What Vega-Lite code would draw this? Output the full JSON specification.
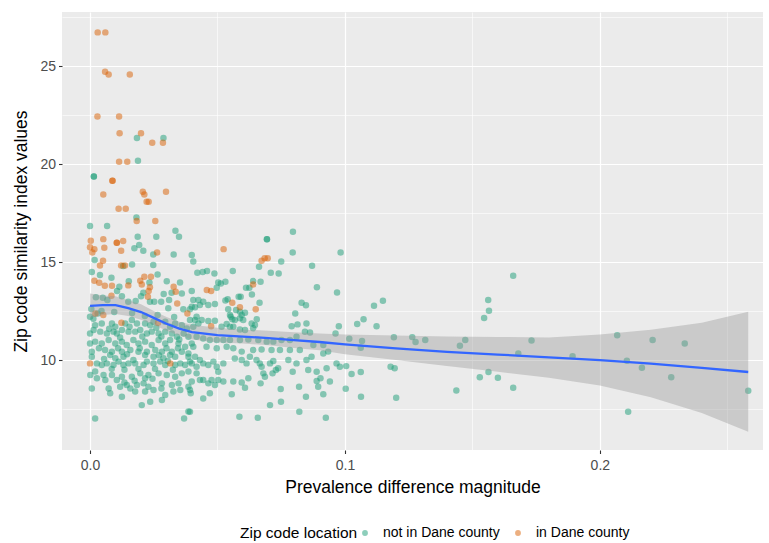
{
"$schema":"https://vega.github.io/schema/vega-lite/v6.json",
"width":701,"height":438,
"autosize":{"type":"none"},
"padding":{"left":62,"top":12,"right":6,"bottom":93},
"background":"white",
"config":{"view":{"fill":"#EBEBEB","stroke":null},"font":"Liberation Sans","axis":{"domain":false,"gridColor":"white","labelFont":"Liberation Sans","titleFont":"Liberation Sans"},"legend":{"labelFont":"Liberation Sans","titleFont":"Liberation Sans"}},
"datasets":{
"nd":[
{"x":0.0184,"y":21.33},{"x":0.0288,"y":21.33},{"x":0.0188,"y":20.17},{"x":0.0015,"y":19.37},{"x":0.0015,"y":19.37},{"x":0.0182,"y":17.28},{"x":0.0,"y":16.84},{"x":0.0067,"y":16.84},{"x":0.0335,"y":16.6},{"x":0.0349,"y":16.29},{"x":0.0187,"y":16.29},{"x":0.026,"y":16.29},{"x":0.0174,"y":15.7},{"x":0.0193,"y":15.87},{"x":0.0209,"y":15.58},{"x":0.0248,"y":15.39},{"x":0.0328,"y":15.39},{"x":0.0018,"y":15.1},{"x":0.013,"y":14.8},{"x":0.0165,"y":14.88},{"x":0.0248,"y":14.85},{"x":0.0007,"y":14.49},{"x":0.0039,"y":14.34},{"x":0.0084,"y":14.2},{"x":0.0152,"y":14.02},{"x":0.0265,"y":14.37},{"x":0.0301,"y":14.02},{"x":0.0353,"y":13.96},{"x":0.0233,"y":13.96},{"x":0.0115,"y":13.74},{"x":0.0106,"y":13.52},{"x":0.0209,"y":13.43},{"x":0.0289,"y":13.37},{"x":0.032,"y":13.43},{"x":0.0399,"y":13.52},
{"x":0.005,"y":13.18},{"x":0.0068,"y":13.06},{"x":0.015,"y":12.98},{"x":0.0179,"y":13.01},{"x":0.0235,"y":12.98},{"x":0.0252,"y":12.98},{"x":0.0307,"y":12.64},{"x":0.0366,"y":12.59},{"x":0.0399,"y":12.72},{"x":0.003,"y":12.38},{"x":0.0013,"y":12.11},{"x":0.02,"y":13.26},{"x":0.036,"y":13.4},{"x":0.0125,"y":13.26},{"x":0.0023,"y":13.2},{"x":0.0279,"y":12.97},{"x":0.031,"y":13.06},{"x":0.0045,"y":12.5},{"x":0.0095,"y":12.45},{"x":0.0165,"y":12.4},{"x":0.0215,"y":12.25},{"x":0.0265,"y":12.3},{"x":0.033,"y":12.2},{"x":0.0005,"y":12.6},
{"x":0.0,"y":12.21},{"x":0.002,"y":11.78},{"x":0.0046,"y":11.87},{"x":0.0086,"y":11.87},{"x":0.0099,"y":11.7},{"x":0.0138,"y":11.87},{"x":0.0164,"y":12.04},{"x":0.0184,"y":11.87},{"x":0.0216,"y":11.87},{"x":0.0236,"y":11.78},{"x":0.0249,"y":11.95},{"x":0.0295,"y":11.95},{"x":0.0314,"y":11.7},{"x":0.0334,"y":11.87},{"x":0.036,"y":11.78},{"x":0.038,"y":11.61},{"x":0.0,"y":11.36},{"x":0.0014,"y":11.53},{"x":0.004,"y":11.45},{"x":0.0066,"y":11.36},{"x":0.0092,"y":11.45},{"x":0.0105,"y":11.36},{"x":0.0125,"y":11.53},{"x":0.0151,"y":11.45},{"x":0.0177,"y":11.45},{"x":0.0197,"y":11.53},{"x":0.0223,"y":11.36},{"x":0.0242,"y":11.45},{"x":0.0269,"y":11.36},{"x":0.0295,"y":11.45},{"x":0.0321,"y":11.36},{"x":0.0341,"y":11.19},{"x":0.0367,"y":11.36},{"x":0.0386,"y":11.19},{"x":0.0,"y":10.85},{"x":0.002,"y":10.94},{"x":0.0046,"y":10.85},{"x":0.0073,"y":11.02},{"x":0.0099,"y":10.85},{"x":0.0125,"y":10.94},{"x":0.0144,"y":10.77},{"x":0.017,"y":11.02},{"x":0.019,"y":10.85},{"x":0.0216,"y":10.94},{"x":0.0242,"y":10.77},{"x":0.0269,"y":11.02},{"x":0.0295,"y":10.85},{"x":0.0314,"y":11.02},{"x":0.0347,"y":10.85},{"x":0.0373,"y":10.68},{"x":0.0399,"y":10.85},{"x":0.0007,"y":10.42},{"x":0.0059,"y":10.51},{"x":0.0086,"y":10.42},{"x":0.0125,"y":10.42},{"x":0.0158,"y":10.51},{"x":0.019,"y":10.42},{"x":0.0223,"y":10.42},{"x":0.0256,"y":10.51},{"x":0.0282,"y":10.42},{"x":0.0321,"y":10.42},{"x":0.036,"y":10.42},{"x":0.0386,"y":10.34},
{"x":0.0007,"y":10.17},{"x":0.0079,"y":10.26},{"x":0.0099,"y":10.09},{"x":0.0131,"y":10.17},{"x":0.0216,"y":10.26},{"x":0.0249,"y":10.17},{"x":0.0288,"y":10.09},{"x":0.0314,"y":10.26},{"x":0.0334,"y":10.17},{"x":0.0386,"y":10.17},{"x":0.0027,"y":9.83},{"x":0.0046,"y":9.75},{"x":0.0066,"y":9.83},{"x":0.0092,"y":9.75},{"x":0.0112,"y":9.92},{"x":0.0131,"y":9.75},{"x":0.0151,"y":9.83},{"x":0.0177,"y":9.83},{"x":0.021,"y":9.75},{"x":0.0223,"y":9.92},{"x":0.0249,"y":9.83},{"x":0.0275,"y":9.92},{"x":0.0295,"y":9.75},{"x":0.0334,"y":9.75},{"x":0.0354,"y":9.83},{"x":0.0373,"y":9.75},{"x":0.0399,"y":9.83},{"x":0.0001,"y":9.24},{"x":0.002,"y":9.41},{"x":0.0027,"y":9.07},{"x":0.0053,"y":9.24},{"x":0.006,"y":8.98},{"x":0.0086,"y":9.24},{"x":0.0105,"y":8.98},{"x":0.0125,"y":9.15},{"x":0.0164,"y":9.15},{"x":0.0197,"y":9.32},{"x":0.0216,"y":9.07},{"x":0.0229,"y":9.24},{"x":0.0269,"y":9.32},{"x":0.0301,"y":9.24},{"x":0.0334,"y":9.15},{"x":0.036,"y":9.32},{"x":0.0386,"y":9.41},{"x":0.0007,"y":8.55},{"x":0.0073,"y":8.55},{"x":0.0118,"y":8.64},{"x":0.0144,"y":8.73},{"x":0.0158,"y":8.55},{"x":0.0184,"y":8.73},{"x":0.021,"y":8.81},{"x":0.0229,"y":8.64},{"x":0.0282,"y":8.81},{"x":0.0321,"y":8.73},{"x":0.0347,"y":8.81},{"x":0.0386,"y":8.64},{"x":0.0079,"y":8.3},{"x":0.0125,"y":8.13},{"x":0.0177,"y":8.39},{"x":0.0216,"y":8.39},{"x":0.0249,"y":8.47},{"x":0.0295,"y":8.22},{"x":0.0327,"y":8.39},{"x":0.0354,"y":8.47},{"x":0.0395,"y":8.3},{"x":0.0203,"y":7.7},{"x":0.0236,"y":7.87},{"x":0.0282,"y":7.96},{"x":0.0386,"y":7.37},{"x":0.002,"y":7.02},{"x":0.0369,"y":7.02},
{"x":0.0035,"y":10.6},{"x":0.011,"y":10.6},{"x":0.0145,"y":10.3},{"x":0.017,"y":10.0},{"x":0.0195,"y":10.6},{"x":0.027,"y":10.25},{"x":0.03,"y":10.6},{"x":0.0055,"y":10.05},{"x":0.0118,"y":11.15},{"x":0.0205,"y":11.2},{"x":0.026,"y":11.65},{"x":0.0075,"y":11.6},{"x":0.0155,"y":11.7},{"x":0.028,"y":11.2},{"x":0.035,"y":11.05},{"x":0.0305,"y":9.95},{"x":0.0135,"y":9.5},{"x":0.019,"y":9.55},{"x":0.0255,"y":9.55},{"x":0.0325,"y":9.5},{"x":0.0085,"y":9.55},{"x":0.0175,"y":8.95},{"x":0.0245,"y":9.05},{"x":0.028,"y":8.55},{"x":0.0135,"y":8.85},{"x":0.0345,"y":10.6},
{"x":0.0796,"y":16.55},{"x":0.0694,"y":16.16},{"x":0.0694,"y":16.16},{"x":0.0795,"y":15.49},{"x":0.0983,"y":15.49},{"x":0.075,"y":15.03},{"x":0.0663,"y":14.76},{"x":0.0709,"y":14.45},{"x":0.074,"y":14.42},{"x":0.0871,"y":14.81},{"x":0.0399,"y":15.36},{"x":0.0405,"y":15.03},{"x":0.0421,"y":14.45},{"x":0.0442,"y":14.49},{"x":0.0459,"y":14.54},{"x":0.0488,"y":14.42},{"x":0.056,"y":14.54},{"x":0.0503,"y":13.96},{"x":0.0513,"y":13.91},{"x":0.0531,"y":13.99},{"x":0.0497,"y":13.69},{"x":0.064,"y":14.03},{"x":0.0669,"y":13.99},{"x":0.0612,"y":13.69},{"x":0.0625,"y":13.69},{"x":0.0635,"y":13.35},{"x":0.089,"y":13.71},{"x":0.0969,"y":13.45},{"x":0.083,"y":12.92},{"x":0.0805,"y":12.38},{"x":0.0665,"y":12.92},{"x":0.0531,"y":13.04},{"x":0.054,"y":13.1},{"x":0.0583,"y":13.23},{"x":0.0591,"y":13.23},{"x":0.0608,"y":12.41},{"x":0.0542,"y":12.59},{"x":0.0573,"y":12.55},{"x":0.0588,"y":12.46},{"x":0.0552,"y":12.21},{"x":0.0558,"y":12.08},{"x":0.0588,"y":12.13},{"x":0.0601,"y":12.04},{"x":0.0405,"y":13.06},{"x":0.0425,"y":13.06},{"x":0.0444,"y":12.98},{"x":0.0464,"y":12.81},{"x":0.0431,"y":12.81},{"x":0.0412,"y":12.69},{"x":0.049,"y":12.86},{"x":0.0654,"y":12.08},{"x":0.0634,"y":11.87},{"x":0.064,"y":11.62},{"x":0.0608,"y":11.53},{"x":0.0588,"y":11.56},{"x":0.0562,"y":11.7},{"x":0.0536,"y":11.84},{"x":0.0516,"y":11.7},{"x":0.0392,"y":12.04},{"x":0.0412,"y":12.04},{"x":0.0418,"y":12.21},{"x":0.0438,"y":12.04},{"x":0.0464,"y":11.99},{"x":0.049,"y":12.0},{"x":0.0791,"y":11.73},{"x":0.0814,"y":11.82},{"x":0.0843,"y":11.44},{"x":0.0863,"y":11.41},{"x":0.0963,"y":11.36},{"x":0.0976,"y":11.73},{"x":0.0847,"y":12.8},{"x":0.0425,"y":11.87},{"x":0.0405,"y":11.7},{"x":0.0549,"y":11.7},{"x":0.0568,"y":12.04},{"x":0.0595,"y":12.3},{"x":0.0549,"y":12.3},{"x":0.0647,"y":11.79},{"x":0.0849,"y":11.87},{"x":0.0392,"y":12.59},
{"x":0.0418,"y":11.19},{"x":0.0444,"y":11.1},{"x":0.047,"y":11.02},{"x":0.0497,"y":11.02},{"x":0.0523,"y":11.02},{"x":0.0549,"y":11.02},{"x":0.0588,"y":11.02},{"x":0.0621,"y":11.05},{"x":0.066,"y":11.02},{"x":0.0693,"y":10.94},{"x":0.0719,"y":10.94},{"x":0.0751,"y":11.02},{"x":0.0784,"y":11.02},{"x":0.081,"y":11.19},{"x":0.0405,"y":10.68},{"x":0.0457,"y":10.68},{"x":0.0497,"y":10.6},{"x":0.0536,"y":10.68},{"x":0.0562,"y":10.6},{"x":0.0595,"y":10.43},{"x":0.064,"y":10.51},{"x":0.0673,"y":10.54},{"x":0.0712,"y":10.51},{"x":0.0745,"y":10.51},{"x":0.0784,"y":10.51},{"x":0.0823,"y":10.51},
{"x":0.0915,"y":10.77},{"x":0.0876,"y":10.77},{"x":0.0934,"y":10.43},{"x":0.0418,"y":9.66},{"x":0.0444,"y":9.83},{"x":0.0464,"y":9.75},{"x":0.0484,"y":9.92},{"x":0.0497,"y":9.66},{"x":0.0503,"y":9.4},{"x":0.0523,"y":9.83},{"x":0.0568,"y":10.08},{"x":0.0595,"y":10.0},{"x":0.0614,"y":9.83},{"x":0.0627,"y":10.17},{"x":0.0653,"y":10.0},{"x":0.0666,"y":9.83},{"x":0.0673,"y":9.66},{"x":0.068,"y":9.32},{"x":0.0686,"y":9.15},{"x":0.0669,"y":8.81},{"x":0.0706,"y":9.83},{"x":0.0716,"y":9.32},{"x":0.0729,"y":9.49},{"x":0.0738,"y":9.58},{"x":0.0719,"y":9.95},{"x":0.0778,"y":10.0},{"x":0.0795,"y":9.4},{"x":0.081,"y":9.83},{"x":0.0849,"y":10.0},{"x":0.0856,"y":9.49},{"x":0.0869,"y":10.17},{"x":0.0889,"y":9.4},{"x":0.0915,"y":10.34},{"x":0.0928,"y":9.58},{"x":0.0967,"y":9.83},{"x":0.0399,"y":8.9},{"x":0.0418,"y":9.32},{"x":0.0431,"y":8.98},{"x":0.0444,"y":8.98},{"x":0.0464,"y":8.81},{"x":0.0477,"y":8.98},{"x":0.049,"y":8.73},{"x":0.0503,"y":8.98},{"x":0.0523,"y":8.9},{"x":0.0562,"y":8.9},{"x":0.0595,"y":8.86},{"x":0.0621,"y":9.07},{"x":0.0392,"y":8.47},{"x":0.0444,"y":8.04},{"x":0.047,"y":8.3},{"x":0.0556,"y":8.25},{"x":0.0608,"y":8.59},{"x":0.0847,"y":8.13},{"x":0.0915,"y":8.25},{"x":0.0895,"y":8.64},{"x":0.0748,"y":8.52},{"x":0.082,"y":8.64},{"x":0.0586,"y":7.11},{"x":0.0658,"y":7.06},{"x":0.0925,"y":7.06},{"x":0.0706,"y":7.7},{"x":0.0749,"y":7.87},{"x":0.0821,"y":7.36},{"x":0.0392,"y":7.36},{"x":0.0889,"y":8.93},{"x":0.0941,"y":8.9},{"x":0.0904,"y":9.07},{"x":0.0392,"y":9.92},{"x":0.0412,"y":10.17},{"x":0.0431,"y":10.0},
{"x":0.1114,"y":12.77},{"x":0.1149,"y":13.03},{"x":0.1048,"y":11.84},{"x":0.1073,"y":12.08},{"x":0.1124,"y":11.73},{"x":0.1017,"y":11.09},{"x":0.1067,"y":10.97},{"x":0.1062,"y":10.63},{"x":0.1192,"y":11.16},{"x":0.1264,"y":11.17},{"x":0.1277,"y":10.92},{"x":0.1315,"y":11.02},{"x":0.098,"y":9.66},{"x":0.1005,"y":9.69},{"x":0.1026,"y":9.29},{"x":0.1062,"y":9.39},{"x":0.1179,"y":9.66},{"x":0.1195,"y":9.58},{"x":0.1003,"y":8.54},{"x":0.1063,"y":8.13},{"x":0.1201,"y":8.08},{"x":0.1437,"y":8.45},{"x":0.1451,"y":10.73},{"x":0.1472,"y":11.02},{"x":0.1529,"y":9.12},{"x":0.1563,"y":9.39},{"x":0.16,"y":9.1},{"x":0.166,"y":8.59},{"x":0.1546,"y":12.14},{"x":0.1565,"y":12.52},{"x":0.1562,"y":13.06},{"x":0.166,"y":14.3},{"x":0.168,"y":10.34},{"x":0.1732,"y":11.0},
{"x":0.1893,"y":10.2},{"x":0.2068,"y":11.26},{"x":0.2106,"y":9.96},{"x":0.2165,"y":9.61},{"x":0.2111,"y":7.36},{"x":0.2207,"y":11.02},{"x":0.228,"y":9.12},{"x":0.2333,"y":10.85},{"x":0.2582,"y":8.43}
],
"d":[
{"x":0.003,"y":26.72},{"x":0.006,"y":26.72},{"x":0.0059,"y":24.71},{"x":0.0073,"y":24.57},{"x":0.0156,"y":24.57},{"x":0.0029,"y":22.43},{"x":0.0114,"y":22.43},{"x":0.0116,"y":21.57},{"x":0.02,"y":21.57},{"x":0.0244,"y":21.09},{"x":0.0286,"y":21.09},{"x":0.0114,"y":20.12},{"x":0.0146,"y":20.12},{"x":0.0088,"y":19.15},{"x":0.0088,"y":19.15},{"x":0.0052,"y":18.45},{"x":0.0207,"y":18.59},{"x":0.0213,"y":18.45},{"x":0.0298,"y":18.59},{"x":0.0222,"y":18.08},{"x":0.023,"y":18.08},{"x":0.0112,"y":17.72},{"x":0.014,"y":17.72},{"x":0.0183,"y":17.09},{"x":0.0256,"y":17.09},{"x":0.0052,"y":16.17},{"x":0.0003,"y":16.09},{"x":0.0105,"y":15.98},{"x":0.0105,"y":15.98},{"x":0.013,"y":16.07},{"x":0.0,"y":15.75},{"x":0.0017,"y":15.66},{"x":0.0009,"y":15.49},{"x":0.0056,"y":15.73},{"x":0.0122,"y":15.58},{"x":0.0263,"y":15.49},{"x":0.0051,"y":15.07},{"x":0.0039,"y":14.83},{"x":0.0122,"y":14.83},{"x":0.0137,"y":14.83},{"x":0.0213,"y":14.25},{"x":0.0239,"y":14.25},{"x":0.0017,"y":14.05},{"x":0.0036,"y":13.94},{"x":0.0058,"y":13.79},{"x":0.0086,"y":13.79},{"x":0.015,"y":13.81},{"x":0.0197,"y":14.05},{"x":0.0203,"y":13.86},{"x":0.0235,"y":13.71},{"x":0.023,"y":13.52},{"x":0.0227,"y":13.23},{"x":0.0328,"y":13.74},{"x":0.0336,"y":13.49},{"x":0.0084,"y":13.28},{"x":0.0342,"y":12.89},{"x":0.0382,"y":12.38},{"x":0.0052,"y":12.3},{"x":0.0021,"y":12.38},{"x":0.0123,"y":11.9},{"x":0.0267,"y":11.9},{"x":0.0,"y":9.83},{"x":0.0315,"y":9.83},{"x":0.0524,"y":15.66},{"x":0.0673,"y":15.07},{"x":0.0685,"y":15.19},{"x":0.0697,"y":15.19},{"x":0.064,"y":13.86},{"x":0.0458,"y":13.57},{"x":0.0475,"y":13.52},{"x":0.065,"y":12.59},{"x":0.0558,"y":12.92},{"x":0.0588,"y":12.7},{"x":0.0475,"y":11.73}
],
"fit":[
{"x":0.0,"y":12.76,"lo":12.15,"hi":13.4},{"x":0.005,"y":12.8,"lo":12.3,"hi":13.3},{"x":0.01,"y":12.8,"lo":12.35,"hi":13.25},{"x":0.015,"y":12.65,"lo":12.25,"hi":13.05},{"x":0.02,"y":12.45,"lo":12.05,"hi":12.85},{"x":0.025,"y":12.15,"lo":11.8,"hi":12.5},{"x":0.03,"y":11.85,"lo":11.5,"hi":12.2},{"x":0.035,"y":11.6,"lo":11.25,"hi":11.95},{"x":0.04,"y":11.42,"lo":11.05,"hi":11.8},{"x":0.05,"y":11.27,"lo":10.9,"hi":11.65},{"x":0.06,"y":11.2,"lo":10.85,"hi":11.55},{"x":0.07,"y":11.12,"lo":10.75,"hi":11.5},{"x":0.08,"y":11.02,"lo":10.62,"hi":11.42},{"x":0.09,"y":10.92,"lo":10.5,"hi":11.35},{"x":0.1,"y":10.8,"lo":10.3,"hi":11.3},{"x":0.12,"y":10.6,"lo":10.0,"hi":11.25},{"x":0.14,"y":10.42,"lo":9.7,"hi":11.2},{"x":0.16,"y":10.28,"lo":9.4,"hi":11.18},{"x":0.18,"y":10.14,"lo":9.1,"hi":11.15},{"x":0.2,"y":10.0,"lo":8.7,"hi":11.3},{"x":0.22,"y":9.82,"lo":8.1,"hi":11.55},{"x":0.24,"y":9.6,"lo":7.3,"hi":11.9},{"x":0.2582,"y":9.39,"lo":6.34,"hi":12.47}
]
},
"resolve":{"axis":{"x":"independent","y":"independent"}},
"layer":[
{"data":{"name":"nd"},"mark":{"type":"circle","size":42,"opacity":0.5},
 "encoding":{
  "x":{"field":"x","type":"quantitative","scale":{"domain":[-0.011,0.264],"nice":false,"zero":false},
   "axis":{"values":[0,0.1,0.2],"format":".1f","grid":true,"gridColor":"white","gridWidth":1.2,"tickColor":"#333333","tickSize":3.5,"tickWidth":1.1,"labelColor":"#4D4D4D","labelFontSize":14,"labelPadding":5,"title":"Prevalence difference magnitude","titleFontSize":17.5,"titleFontWeight":"normal","titleColor":"black","titlePadding":6}},
  "y":{"field":"y","type":"quantitative","scale":{"domain":[5.41,27.76],"nice":false,"zero":false},
   "axis":{"values":[10,15,20,25],"grid":true,"gridColor":"white","gridWidth":1.2,"tickColor":"#333333","tickSize":3.5,"tickWidth":1.1,"labelColor":"#4D4D4D","labelFontSize":14,"labelPadding":3,"title":"Zip code similarity index values","titleFontSize":17.5,"titleFontWeight":"normal","titleColor":"black","titlePadding":9}},
  "color":{"datum":"not in Dane county","type":"nominal","scale":{"domain":["not in Dane county","in Dane county"],"range":["#1B9E77","#D95F02"]},
   "legend":{"title":"Zip code location","orient":"none","direction":"horizontal","titleOrient":"left","legendX":178,"legendY":514,"titleFontSize":15.5,"titleFontWeight":"normal","titleColor":"black","titlePadding":0,"labelFontSize":14,"labelColor":"black","symbolSize":34,"symbolOpacity":0.5,"symbolType":"circle","columnPadding":11,"labelOffset":11}}
 }},
{"data":{"name":"d"},"mark":{"type":"circle","size":42,"opacity":0.5},
 "encoding":{
  "x":{"field":"x","type":"quantitative","axis":null},
  "y":{"field":"y","type":"quantitative","axis":null},
  "color":{"datum":"in Dane county","type":"nominal"}
 }},
{"data":{"name":"fit"},"mark":{"type":"area","color":"#999999","opacity":0.4},
 "encoding":{
  "x":{"field":"x","type":"quantitative","axis":{"orient":"top","values":[0.05,0.15,0.25],"grid":true,"gridColor":"white","gridWidth":0.6,"labels":false,"ticks":false,"domain":false,"title":null}},
  "y":{"field":"lo","type":"quantitative","axis":{"orient":"right","values":[7.5,12.5,17.5,22.5,27.5],"grid":true,"gridColor":"white","gridWidth":0.6,"labels":false,"ticks":false,"domain":false,"title":null}},
  "y2":{"field":"hi"}
 }},
{"data":{"name":"fit"},"mark":{"type":"line","color":"#3366FF","strokeWidth":2.3},
 "encoding":{
  "x":{"field":"x","type":"quantitative","axis":null},
  "y":{"field":"y","type":"quantitative","axis":null}
 }}
]
}
